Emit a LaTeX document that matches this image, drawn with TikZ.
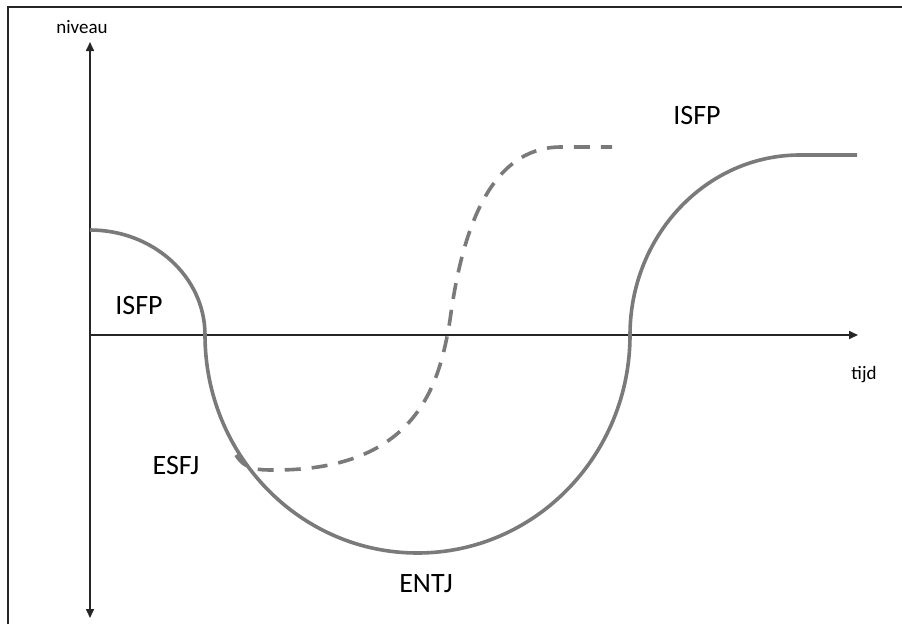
\documentclass[tikz,border=0pt]{standalone}
\usepackage{fontspec}
\setmainfont{Carlito}
\usetikzlibrary{arrows.meta}
\definecolor{curvegray}{RGB}{122,122,122}
\begin{document}
\begin{tikzpicture}[x=1pt,y=-1pt,
  axisline/.style={line width=1.6pt,draw=black!85,-{Triangle[length=9pt,width=8pt]}},
  solidcurve/.style={line width=3.6pt,draw=curvegray},
  dashcurve/.style={line width=3.6pt,draw=curvegray,dash pattern=on 16pt off 11pt},
  biglabel/.style={font=\fontsize{28}{32}\selectfont,inner sep=0pt},
  smalllabel/.style={font=\fontsize{19}{22}\selectfont,inner sep=0pt}]
\useasboundingbox (0,0) rectangle (902,624);
\fill[white] (0,0) rectangle (902,624);
% frame (top and left edges)
\draw[line width=2pt,black!85] (8,624) -- (8,7) -- (902,7);
% axes
\coordinate (o) at (90,335);
\coordinate (ytop) at (90,42);
\coordinate (ybot) at (90,618);
\coordinate (xend) at (858,335);
\draw[axisline] (o) -- (ytop);
\draw[axisline] (o) -- (ybot);
\draw[axisline] (o) -- (xend);
% solid curve
\coordinate (s0) at (90,230);
\coordinate (s1) at (205,335);
\coordinate (smin) at (417.5,553);
\coordinate (s2) at (630,335);
\coordinate (s3) at (800,155);
\coordinate (s4) at (857,155);
\draw[solidcurve] (s0) .. controls (153.5,230) and (205,277) .. (s1)
  .. controls (205,455.4) and (300.1,553) .. (smin)
  .. controls (534.9,553) and (630,455.4) .. (s2)
  .. controls (630,235.6) and (706.1,155) .. (s3)
  -- (s4);
% dashed curve
\coordinate (d0) at (236,455);
\coordinate (d1) at (275,470);
\coordinate (d2) at (450,320);
\coordinate (d3) at (560,147);
\coordinate (d4) at (612,147);
\draw[dashcurve] (d0) .. controls (245,470) and (258,470) .. (d1)
  .. controls (420,470) and (440,380) .. (d2)
  .. controls (462,230) and (490,148) .. (d3) -- (d4);
% labels
\node[smalllabel] (niveau) at (82,27) {niveau};
\node[smalllabel] (tijd) at (864,375) {tijd};
\node[biglabel] (isfpL) at (139,306) {ISFP};
\node[biglabel] (esfj) at (176,466) {ESFJ};
\node[biglabel] (entj) at (426,584) {ENTJ};
\node[biglabel] (isfpR) at (697,116) {ISFP};
\end{tikzpicture}
\end{document}
